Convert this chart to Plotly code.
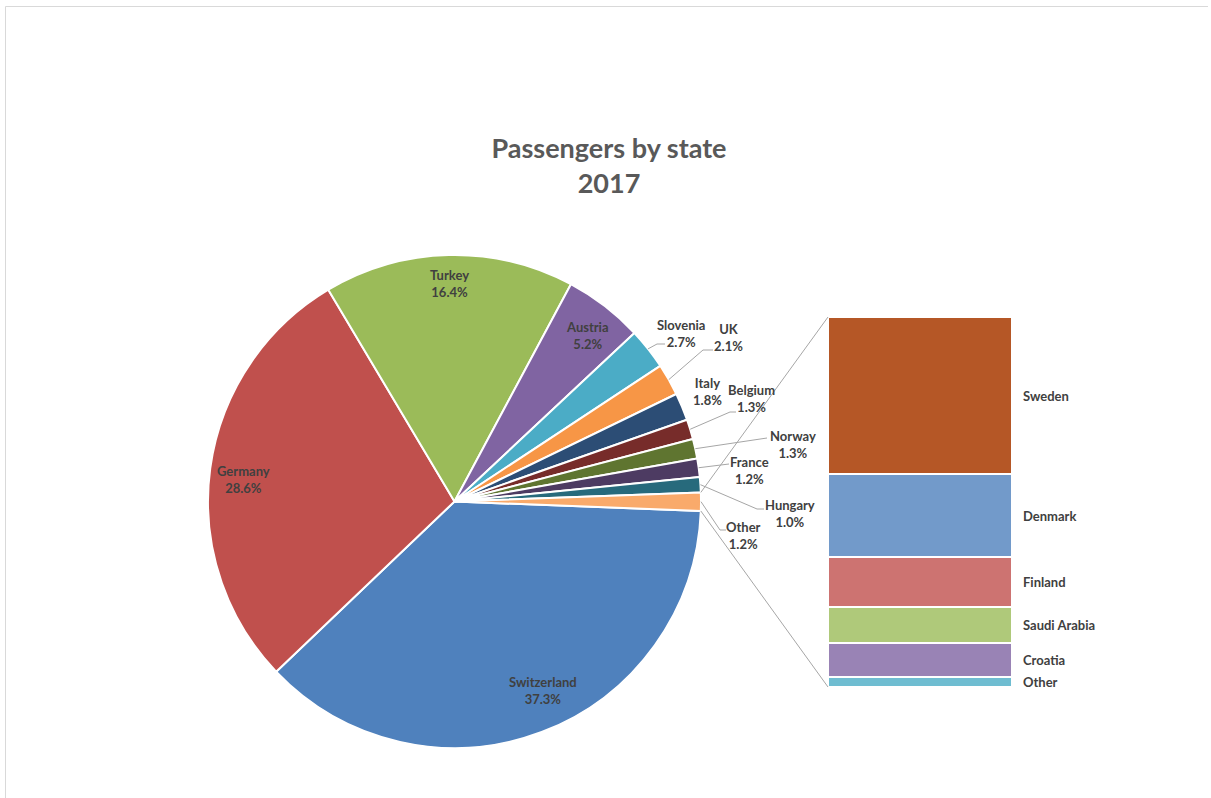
import math
import plotly.graph_objects as go

# ---------------- data ----------------
pie_labels = ["Switzerland", "Germany", "Turkey", "Austria", "Slovenia", "UK",
              "Italy", "Belgium", "Norway", "France", "Hungary", "Other"]
pie_values = [37.3, 28.6, 16.4, 5.2, 2.7, 2.1, 1.8, 1.3, 1.3, 1.2, 1.0, 1.2]

bar_labels = ["Other", "Croatia", "Saudi Arabia", "Finland", "Denmark", "Sweden"]
bar_values = [0.034, 0.109, 0.117, 0.162, 0.268, 0.510]

title_lines = ["Passengers by state", "2017"]

# ---------------- styles ----------------
pie_colors = ["#4F81BD", "#C0504D", "#9BBB59", "#8064A2", "#4BACC6", "#F79646",
              "#2C4D75", "#772C2A", "#5F7530", "#4D3B62", "#276A7C", "#F9AA6B"]
bar_colors = ["#6FBDD1", "#9983B5", "#AFC97A", "#CD7371", "#729ACA", "#B55726"]

FONT = "Lato"
LABEL_COLOR = "#404040"
LINE_COLOR = "#A6A6A6"

# ---------------- layout geometry (pixels) ----------------
W, H = 1211, 798
CX, CY, R = 454.5, 501.5, 246.5          # pie centre / radius
START = 2.2                               # first slice starts this many deg below 3 o'clock
BAR_X0, BAR_X1, BAR_Y0, BAR_Y1 = 828, 1012, 317, 687

# label block centres for pie labels
label_pos = {
    "Switzerland": (543, 690), "Germany": (244, 479), "Turkey": (450, 283),
    "Austria": (587, 335), "Slovenia": (681, 333), "UK": (728, 338),
    "Italy": (707, 391), "Belgium": (751, 398), "Norway": (793, 444),
    "France": (749, 470), "Hungary": (790, 513), "Other": (743, 535),
}
# leader lines: (elbow, end) points
leaders = {
    "Slovenia": ((657, 344), (665, 344)),
    "UK": ((703, 350), (713, 350)),
    "Belgium": ((730, 412), (736, 412)),
    "Norway": ((767, 438), (767, 438)),
    "France": ((729, 464), (729, 464)),
    "Hungary": ((757, 509), (764, 509)),
    "Other": ((720, 530), (726, 530)),
}


def px(x):
    return x / W


def py(y):
    return 1 - y / H


total = sum(pie_values)


def slice_point(frac, r=R):
    ang = math.radians(START + frac * 360)
    return CX + r * math.cos(ang), CY + r * math.sin(ang)


fig = go.Figure()

fig.add_trace(go.Pie(
    labels=pie_labels, values=pie_values, sort=False, direction="clockwise",
    rotation=90 + START,
    marker=dict(colors=pie_colors, line=dict(color="white", width=2)),
    textinfo="none", hoverinfo="label+percent", showlegend=False,
    domain=dict(x=[px(CX - R), px(CX + R)], y=[py(CY + R), py(CY - R)]),
))

for lab, val, col in zip(bar_labels, bar_values, bar_colors):
    fig.add_trace(go.Bar(
        x=[0], y=[val], width=1, name=lab, xaxis="x2", yaxis="y2",
        marker=dict(color=col, line=dict(color="white", width=2)),
        showlegend=False, hoverinfo="name+y",
    ))

annotations = []
shapes = []

# pie labels and leaders
cum = 0
for lab, val in zip(pie_labels, pie_values):
    mid = (cum + val / 2) / total
    cum += val
    x, y = label_pos[lab]
    annotations.append(dict(
        x=px(x), y=py(y), xref="paper", yref="paper", showarrow=False,
        text=f"<b>{lab}</b><br><b>{val:.1f}%</b>", align="center",
        font=dict(family=FONT, size=13, color=LABEL_COLOR),
        xanchor="center", yanchor="middle",
    ))
    if lab in leaders:
        sx, sy = slice_point(mid)
        (ex, ey), (fx, fy) = leaders[lab]
        path = f"M {px(sx)} {py(sy)} L {px(ex)} {py(ey)} L {px(fx)} {py(fy)}"
        shapes.append(dict(type="path", xref="paper", yref="paper", path=path,
                           line=dict(color=LINE_COLOR, width=1)))

# bar labels
cum = 0
for lab, val in zip(bar_labels, bar_values):
    annotations.append(dict(
        x=0.5, y=cum + val / 2, xref="x2", yref="y2", showarrow=False,
        text=f"<b>{lab}</b>", xanchor="left", yanchor="middle", xshift=9,
        font=dict(family=FONT, size=13, color=LABEL_COLOR),
    ))
    cum += val

# connector lines from "Other" slice to the bar
top_pt = slice_point(1 - pie_values[-1] / total)
bot_pt = slice_point(0)
shapes.append(dict(type="line", xref="paper", yref="paper",
                   x0=px(top_pt[0]), y0=py(top_pt[1]), x1=px(BAR_X0), y1=py(BAR_Y0),
                   line=dict(color=LINE_COLOR, width=1)))
shapes.append(dict(type="line", xref="paper", yref="paper",
                   x0=px(bot_pt[0]), y0=py(bot_pt[1]), x1=px(BAR_X0), y1=py(BAR_Y1),
                   line=dict(color=LINE_COLOR, width=1)))

# chart frame
shapes.append(dict(type="line", xref="paper", yref="paper",
                   x0=px(5.5), y0=py(6.5), x1=px(1208), y1=py(6.5),
                   line=dict(color="#D9D9D9", width=1)))
shapes.append(dict(type="line", xref="paper", yref="paper",
                   x0=px(5.5), y0=py(6.5), x1=px(5.5), y1=py(800),
                   line=dict(color="#D9D9D9", width=1)))

fig.update_layout(
    width=W, height=H, margin=dict(l=0, r=0, t=0, b=0),
    paper_bgcolor="white", plot_bgcolor="white",
    barmode="stack", bargap=0,
    title=dict(text="<b>" + "<br>".join(title_lines) + "</b>",
               x=px(609), y=py(158), xanchor="center", yanchor="middle",
               font=dict(family=FONT, size=27, color="#595959")),
    xaxis2=dict(domain=[px(BAR_X0), px(BAR_X1)], range=[-0.5, 0.5], visible=False,
                anchor="y2", fixedrange=True),
    yaxis2=dict(domain=[py(BAR_Y1), py(BAR_Y0)], range=[0, sum(bar_values)], visible=False,
                anchor="x2", fixedrange=True),
    annotations=annotations, shapes=shapes,
)

fig.write_html("out.html", config={"displayModeBar": False},
               post_script="document.body.style.margin='0';")
